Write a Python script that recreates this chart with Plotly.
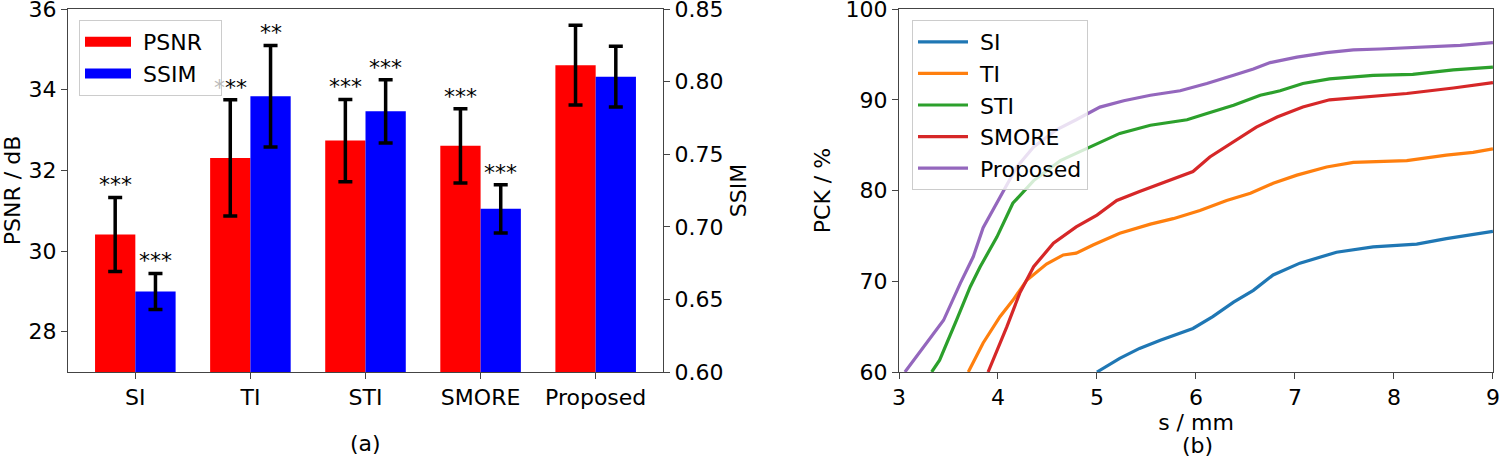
import plotly.graph_objects as go

# ---------------- data: panel (a) ----------------
methods = ["SI", "TI", "STI", "SMORE", "Proposed"]
psnr = [30.41, 32.31, 32.74, 32.61, 34.61]
psnr_err = [0.92, 1.44, 1.02, 0.92, 0.99]
ssim = [0.6555, 0.790, 0.7796, 0.7124, 0.8035]
ssim_err = [0.0124, 0.035, 0.0218, 0.0166, 0.021]
psnr_sig = ["***", "***", "***", "***", ""]
ssim_sig = ["***", "**", "***", "***", ""]
psnr_ticks = [28, 30, 32, 34, 36]
ssim_ticks = [0.60, 0.65, 0.70, 0.75, 0.80, 0.85]

# ---------------- data: panel (b) ----------------
si_s = [5.0, 5.23, 5.43, 5.64, 5.97, 6.17, 6.38, 6.58, 6.78, 7.05, 7.42, 7.79, 8.23, 8.53, 9.0]
si_pck = [60.0, 61.5, 62.6, 63.5, 64.8, 66.1, 67.7, 69.0, 70.7, 72.0, 73.2, 73.8, 74.1, 74.7, 75.5]
ti_s = [3.70, 3.85, 4.02, 4.15, 4.29, 4.49, 4.66, 4.79, 4.96, 5.23, 5.54, 5.77, 6.04, 6.31, 6.55,
        6.78, 7.02, 7.32, 7.59, 8.13, 8.53, 8.8, 9.0]
ti_pck = [60.0, 63.2, 66.1, 67.9, 70.1, 71.9, 72.9, 73.1, 74.0, 75.3, 76.3, 76.9, 77.8, 78.9, 79.7,
          80.8, 81.7, 82.6, 83.1, 83.3, 83.9, 84.2, 84.6]
sti_s = [3.33, 3.41, 3.58, 3.72, 3.82, 3.99, 4.15, 4.36, 4.63, 4.93, 5.23, 5.54, 5.91, 6.11, 6.38,
         6.65, 6.85, 7.08, 7.35, 7.79, 8.19, 8.6, 9.0]
sti_pck = [60.0, 61.3, 65.7, 69.4, 71.6, 74.9, 78.6, 81.1, 83.3, 84.8, 86.3, 87.2, 87.8, 88.5, 89.4,
           90.5, 91.0, 91.8, 92.3, 92.7, 92.8, 93.3, 93.6]
smore_s = [3.90, 4.09, 4.22, 4.36, 4.56, 4.79, 5.0, 5.20, 5.43, 5.77, 5.97, 6.14, 6.41, 6.61, 6.82,
           7.08, 7.35, 7.72, 8.13, 8.6, 9.0]
smore_pck = [60.0, 65.0, 68.7, 71.6, 74.2, 76.0, 77.3, 78.9, 79.9, 81.3, 82.1, 83.7, 85.6, 87.0, 88.1,
             89.2, 90.0, 90.3, 90.7, 91.3, 91.9]
prop_s = [3.06, 3.28, 3.45, 3.62, 3.75, 3.85, 4.02, 4.19, 4.36, 4.59, 4.79, 5.03, 5.27, 5.54, 5.84,
          6.11, 6.38, 6.58, 6.75, 7.02, 7.32, 7.59, 7.86, 8.33, 8.67, 9.0]
prop_pck = [60.0, 63.2, 65.7, 69.8, 72.7, 75.9, 79.3, 82.6, 84.8, 86.7, 87.8, 89.2, 89.9, 90.5, 91.0,
            91.8, 92.7, 93.4, 94.1, 94.7, 95.2, 95.5, 95.6, 95.8, 96.0, 96.3]
s_ticks = [3, 4, 5, 6, 7, 8, 9]
pck_ticks = [60, 70, 80, 90, 100]

curves = [("SI", si_s, si_pck, "#1f77b4"),
          ("TI", ti_s, ti_pck, "#ff7f0e"),
          ("STI", sti_s, sti_pck, "#2ca02c"),
          ("SMORE", smore_s, smore_pck, "#d62728"),
          ("Proposed", prop_s, prop_pck, "#9467bd")]

FONT = "DejaVu Sans"
FS = 22
AX = "#444444"

fig = go.Figure()

# bars
fig.add_trace(go.Bar(x=methods, y=psnr, name="PSNR", marker=dict(color="#ff0000", line=dict(width=0)),
                     offsetgroup="a", xaxis="x", yaxis="y", showlegend=False,
                     error_y=dict(type="data", array=psnr_err, color="black", thickness=3.5, width=7)))
fig.add_trace(go.Bar(x=methods, y=ssim, name="SSIM", marker=dict(color="#0000ff", line=dict(width=0)),
                     offsetgroup="b", xaxis="x", yaxis="y2", showlegend=False,
                     error_y=dict(type="data", array=ssim_err, color="black", thickness=3.5, width=7)))
# legend proxies (wide rectangles like matplotlib)
fig.add_trace(go.Scatter(x=[None], y=[None], mode="lines", name="&nbsp;PSNR&nbsp;&nbsp;",
                         line=dict(color="#ff0000", width=15), xaxis="x", yaxis="y", legend="legend"))
fig.add_trace(go.Scatter(x=[None], y=[None], mode="lines", name="&nbsp;SSIM&nbsp;&nbsp;",
                         line=dict(color="#0000ff", width=15), xaxis="x", yaxis="y", legend="legend"))

# curves
for name, s, p, c in curves:
    fig.add_trace(go.Scatter(x=s, y=p, mode="lines", name="&nbsp;" + name, line=dict(color=c, width=3.2),
                             xaxis="x3", yaxis="y3", legend="legend2"))

# significance stars
ann = []
n = len(methods)
for i in range(n):
    if psnr_sig[i]:
        txt = psnr_sig[i]
        if i == 1:
            txt = "<span style='color:#bbbbbb'>*</span>**"
        ann.append(dict(x=i - 0.175, y=psnr[i] + psnr_err[i], xref="x", yref="y", text=txt,
                        showarrow=False, yanchor="bottom", xanchor="center", yshift=-2,
                        font=dict(family=FONT, size=FS, color="black")))
    if ssim_sig[i]:
        ann.append(dict(x=i + 0.175, y=ssim[i] + ssim_err[i], xref="x", yref="y2", text=ssim_sig[i],
                        showarrow=False, yanchor="bottom", xanchor="center", yshift=-2,
                        font=dict(family=FONT, size=FS, color="black")))

W, H = 1500, 459
def px(x):
    return x / W
def py(y):
    return (H - y) / H

ann += [
    dict(x=px(365), y=py(443), xref="paper", yref="paper", text="(a)", showarrow=False,
         xanchor="center", yanchor="middle", font=dict(family=FONT, size=FS, color="black")),
    dict(x=px(1197), y=py(445), xref="paper", yref="paper", text="(b)", showarrow=False,
         xanchor="center", yanchor="middle", font=dict(family=FONT, size=FS, color="black")),
]
fig.update_layout(annotations=ann)

tick = dict(ticks="outside", ticklen=6, tickwidth=1, tickcolor=AX, showline=True, linecolor=AX, linewidth=1,
            showgrid=False, zeroline=False, automargin=False, ticklabeloverflow="allow",
            tickfont=dict(family=FONT, size=FS, color="black"))

fig.update_layout(
    width=W, height=H,
    margin=dict(l=0, r=0, t=0, b=0),
    paper_bgcolor="white", plot_bgcolor="white",
    font=dict(family=FONT, size=FS, color="black"),
    barmode="group", bargap=0.3, bargroupgap=0,
    xaxis=dict(domain=[px(68), px(663)], anchor="y", range=[-0.585, 4.585], mirror=True, **tick),
    yaxis=dict(domain=[py(372), py(9)], anchor="x", range=[27, 36.004], tickvals=psnr_ticks,
               title=dict(text="PSNR / dB", font=dict(family=FONT, size=FS), standoff=8), **tick),
    yaxis2=dict(overlaying="y", anchor="x", side="right", range=[0.60, 0.8501],
                tickvals=ssim_ticks, tickformat=".2f",
                title=dict(text="SSIM", font=dict(family=FONT, size=FS), standoff=8), **tick),
    xaxis3=dict(domain=[px(899), px(1493)], anchor="y3", range=[3, 9.001], tickvals=s_ticks, mirror=True,
                title=dict(text="s / mm", font=dict(family=FONT, size=FS), standoff=4), **tick),
    yaxis3=dict(domain=[py(372), py(9)], anchor="x3", range=[60, 100.01], tickvals=pck_ticks, mirror=True,
                title=dict(text="PCK / %", font=dict(family=FONT, size=FS), standoff=8), **tick),
    legend=dict(x=px(79), y=py(20), xanchor="left", yanchor="top", bgcolor="rgba(255,255,255,0.8)",
                bordercolor="#cccccc", borderwidth=1, font=dict(family=FONT, size=FS),
                itemwidth=46, tracegroupgap=0),
    legend2=dict(x=px(912), y=py(20), xanchor="left", yanchor="top", bgcolor="rgba(255,255,255,0.8)",
                 bordercolor="#cccccc", borderwidth=1, font=dict(family=FONT, size=FS),
                 itemwidth=50, tracegroupgap=0),
)

fig.write_html("out.html", config={"displayModeBar": False},
               post_script="document.body.style.margin='0';document.body.style.padding='0';")
